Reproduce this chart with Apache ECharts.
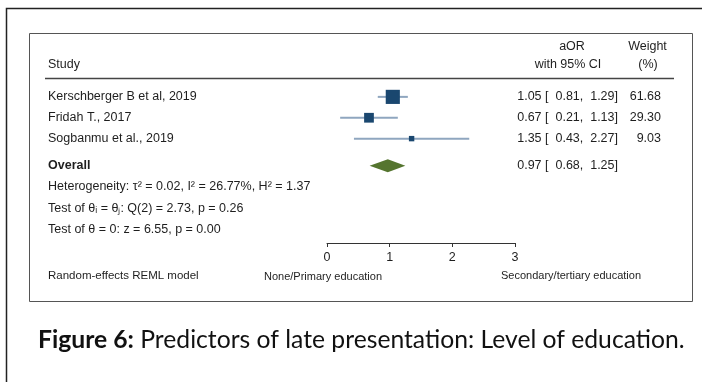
<!DOCTYPE html>
<html>
<head>
<meta charset="utf-8">
<script src="https://cdn.jsdelivr.net/npm/echarts@6/dist/echarts.min.js"></script>
<style>
  html, body { margin: 0; padding: 0; background: #fff; }
  #chart { width: 702px; height: 382px; }
</style>
</head>
<body>
<div id="chart"></div>
<script>
// Study-level estimates (adjusted odds ratios with 95% CI) and weights
const studies = ['Kerschberger B et al, 2019', 'Fridah T., 2017', 'Sogbanmu et al., 2019'];
const aor = [1.05, 0.67, 1.35];
const lower = [0.81, 0.21, 0.43];
const upper = [1.29, 1.13, 2.27];
const weights = [61.68, 29.30, 9.03];

// Pooled random-effects estimate: [estimate, lower, upper]
const overall = [0.97, 0.68, 1.25];

// Summary statistics lines under the pooled estimate
const statLines = [
  'Heterogeneity: \u03c4\u00b2 = 0.02, I\u00b2 = 26.77%, H\u00b2 = 1.37',
  'Test of \u03b8\u1d62 = \u03b8\u2c7c: Q(2) = 2.73, p = 0.26',
  'Test of \u03b8 = 0: z = 6.55, p = 0.00'
];

// Axis ticks
const xTicks = [0, 1, 2, 3];

// Row slots (y-axis units): studies 0..2, pooled row, then stats lines
const studyRows = [0, 1, 2];
const overallRow = 3.3;
const statRows = [4.3, 5.35, 6.35];

const FONT = 'Liberation Sans, Arial, sans-serif';
const TXT = '#1e1e1e';
const COL_CI_X = 618;   // right edge of "est [ lo, hi]" column
const COL_W_X = 661;    // right edge of weight column
const COL_NAME_X = 48;

const fmt = v => v.toFixed(2);
const ciText = (e, l, u) => fmt(e) + ' [  ' + fmt(l) + ',  ' + fmt(u) + ']';

const chart = echarts.init(document.getElementById('chart'), null, { renderer: 'canvas' });

const option = {
  animation: false,
  backgroundColor: '#fff',
  grid: { left: 327, width: 188, top: 76, height: 167 },
  xAxis: {
    type: 'value',
    min: xTicks[0],
    max: xTicks[xTicks.length - 1],
    interval: 1,
    axisLine: { show: true, onZero: false, lineStyle: { color: '#333', width: 1 } },
    axisTick: { show: true, length: 4, lineStyle: { color: '#333' } },
    axisLabel: { margin: 8, fontSize: 12.5, fontFamily: FONT, color: TXT },
    splitLine: { show: false }
  },
  yAxis: { type: 'value', min: -1, max: 7, inverse: true, show: false },
  series: [
    {
      // individual study rows: CI whisker, weighted square, and text columns
      type: 'custom',
      clip: false,
      data: studies.map((s, i) => [aor[i], studyRows[i], lower[i], upper[i], weights[i]]),
      renderItem(params, api) {
        const i = params.dataIndex;
        const y = api.coord([0, api.value(1)])[1];
        const c = api.coord([api.value(0), api.value(1)]);
        const lo = api.coord([api.value(2), api.value(1)]);
        const hi = api.coord([api.value(3), api.value(1)]);
        const s = 1.8 * Math.sqrt(api.value(4));
        const tStyle = { fontFamily: FONT, fontSize: 12.5, fill: TXT, verticalAlign: 'middle' };
        return {
          type: 'group',
          children: [
            { type: 'line', shape: { x1: lo[0], y1: y, x2: hi[0], y2: y },
              style: { stroke: '#8fa6bf', lineWidth: 2 } },
            { type: 'rect', shape: { x: c[0] - s / 2, y: y - s / 2, width: s, height: s },
              style: { fill: '#1a476f' } },
            { type: 'text', x: COL_NAME_X, y: y,
              style: Object.assign({ text: studies[i], align: 'left' }, tStyle) },
            { type: 'text', x: COL_CI_X, y: y,
              style: Object.assign({ text: ciText(aor[i], lower[i], upper[i]), align: 'right' }, tStyle) },
            { type: 'text', x: COL_W_X, y: y,
              style: Object.assign({ text: fmt(weights[i]), align: 'right' }, tStyle) }
          ]
        };
      }
    },
    {
      // pooled estimate: diamond spanning the confidence interval
      type: 'custom',
      clip: false,
      data: [[overall[0], overallRow, overall[1], overall[2]]],
      renderItem(params, api) {
        const c = api.coord([api.value(0), api.value(1)]);
        const lo = api.coord([api.value(2), api.value(1)]);
        const hi = api.coord([api.value(3), api.value(1)]);
        const h = 6.5;
        const tStyle = { fontFamily: FONT, fontSize: 12.5, fill: TXT, verticalAlign: 'middle' };
        return {
          type: 'group',
          children: [
            { type: 'polygon',
              shape: { points: [[lo[0], c[1]], [c[0], c[1] - h], [hi[0], c[1]], [c[0], c[1] + h]] },
              style: { fill: '#55752f' } },
            { type: 'text', x: COL_NAME_X, y: c[1],
              style: Object.assign({ text: 'Overall', align: 'left', fontWeight: 'bold' }, tStyle) },
            { type: 'text', x: COL_CI_X, y: c[1],
              style: Object.assign({ text: ciText(overall[0], overall[1], overall[2]), align: 'right' }, tStyle) }
          ]
        };
      }
    },
    {
      // heterogeneity and test statistics
      type: 'custom',
      clip: false,
      data: statRows.map(r => [0, r]),
      renderItem(params, api) {
        const y = api.coord([0, api.value(1)])[1];
        return {
          type: 'text', x: COL_NAME_X, y: y,
          style: { text: statLines[params.dataIndex], fontFamily: FONT, fontSize: 12.5,
                   fill: TXT, align: 'left', verticalAlign: 'middle' }
        };
      }
    }
  ],
  graphic: [
    // outer frame (continues past the right and bottom edges)
    { type: 'rect', shape: { x: 6.5, y: 8.5, width: 760, height: 420 },
      style: { fill: 'none', stroke: '#222', lineWidth: 1.5 }, silent: true },
    // plot region frame
    { type: 'rect', shape: { x: 29.5, y: 33.5, width: 663, height: 268 },
      style: { fill: 'none', stroke: '#555', lineWidth: 1 }, silent: true },
    // header rule
    { type: 'line', shape: { x1: 45, y1: 78.5, x2: 674, y2: 78.5 },
      style: { stroke: '#444', lineWidth: 1.5 }, silent: true },
    // column headers
    { type: 'text', x: COL_NAME_X, y: 65,
      style: { text: 'Study', fontFamily: FONT, fontSize: 12.5, fill: TXT, align: 'left', verticalAlign: 'middle' } },
    { type: 'text', x: 572, y: 47,
      style: { text: 'aOR', fontFamily: FONT, fontSize: 12.5, fill: TXT, align: 'center', verticalAlign: 'middle' } },
    { type: 'text', x: 568, y: 65,
      style: { text: 'with 95% CI', fontFamily: FONT, fontSize: 12.5, fill: TXT, align: 'center', verticalAlign: 'middle' } },
    { type: 'text', x: 647.5, y: 47,
      style: { text: 'Weight', fontFamily: FONT, fontSize: 12.5, fill: TXT, align: 'center', verticalAlign: 'middle' } },
    { type: 'text', x: 648, y: 65,
      style: { text: '(%)', fontFamily: FONT, fontSize: 12.5, fill: TXT, align: 'center', verticalAlign: 'middle' } },
    // bottom notes and axis direction labels
    { type: 'text', x: COL_NAME_X, y: 276,
      style: { text: 'Random-effects REML model', fontFamily: FONT, fontSize: 11.5, fill: TXT, align: 'left', verticalAlign: 'middle' } },
    { type: 'text', x: 323, y: 277,
      style: { text: 'None/Primary education', fontFamily: FONT, fontSize: 11, fill: TXT, align: 'center', verticalAlign: 'middle' } },
    { type: 'text', x: 571, y: 276,
      style: { text: 'Secondary/tertiary education', fontFamily: FONT, fontSize: 11, fill: TXT, align: 'center', verticalAlign: 'middle' } },
    // figure caption
    { type: 'text', x: 38, y: 340,
      style: {
        text: '{b|Figure 6:} Predictors of late presentation: Level of education.',
        fontFamily: 'Lato, sans-serif', fontSize: 24.7, fill: '#111', align: 'left', verticalAlign: 'middle',
        rich: { b: { fontFamily: 'Lato, sans-serif', fontSize: 24.7, fontWeight: 'bold', fill: '#111' } }
      } }
  ]
};

chart.setOption(option);
</script>
</body>
</html>
